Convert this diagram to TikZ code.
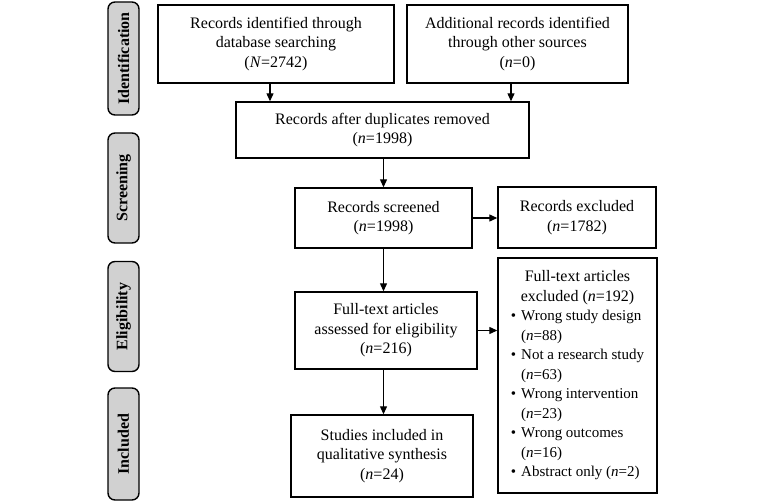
\documentclass[tikz,border=0pt]{standalone}
\usepackage{fontspec}
\setmainfont{Liberation Serif}
\usetikzlibrary{arrows.meta}
\begin{document}
\begin{tikzpicture}[x=1pt,y=-1pt,
  box/.style={draw=black,line width=1.4pt,rectangle,align=center,inner sep=2pt,
    font=\fontsize{16}{19.5}\selectfont},
  phase/.style={draw=black,line width=1.4pt,rounded corners=7pt,fill=black!18,
    minimum width=31pt,inner sep=0pt,font=\fontsize{16}{19}\selectfont\bfseries},
  arr/.style={line width=1.2pt,-{Triangle[length=8pt,width=7pt]}}]
\useasboundingbox (0,0) rectangle (764,503);
% phase labels
\node[phase,minimum height=113pt] (ph1) at (123.5,58.5) {\rotatebox{90}{Identification}};
\node[phase,minimum height=110pt] (ph2) at (123.5,188) {\rotatebox{90}{Screening}};
\node[phase,minimum height=110pt] (ph3) at (123.5,316.5) {\rotatebox{90}{Eligibility}};
\node[phase,minimum height=112pt] (ph4) at (123.5,444) {\rotatebox{90}{Included}};
% boxes
\node[box,minimum width=236pt,minimum height=78pt] (b1) at (276,44)
  {Records identified through\\database searching\\(\textit{N}=2742)};
\node[box,minimum width=221pt,minimum height=78pt] (b2) at (517.5,44)
  {Additional records identified\\through other sources\\(\textit{n}=0)};
\node[box,minimum width=293pt,minimum height=56pt] (dup) at (382.5,130)
  {Records after duplicates removed\\(\textit{n}=1998)};
\node[box,minimum width=177pt,minimum height=60pt] (scr) at (383.5,218)
  {Records screened\\(\textit{n}=1998)};
\node[box,minimum width=158pt,minimum height=61pt] (exc) at (577,217.5)
  {Records excluded\\(\textit{n}=1782)};
\node[box,minimum width=182pt,minimum height=77pt] (ft) at (386,330.5)
  {Full-text articles\\assessed for eligibility\\(\textit{n}=216)};
\node[box,minimum width=182pt,minimum height=82pt] (inc) at (382,456)
  {Studies included in\\qualitative synthesis\\(\textit{n}=24)};
\node[box,minimum width=159pt,minimum height=235pt] (lst) at (577.5,375.5)
  {\begin{tabular}{@{}l@{\hspace{5pt}}l@{}}
   \multicolumn{2}{c}{Full-text articles}\\
   \multicolumn{2}{c}{excluded (\textit{n}=192)}\\
   \fontsize{15}{19.5}\selectfont\textbullet & \fontsize{15}{19.5}\selectfont Wrong study design\\
    & \fontsize{15}{19.5}\selectfont(\textit{n}=88)\\
   \fontsize{15}{19.5}\selectfont\textbullet & \fontsize{15}{19.5}\selectfont Not a research study\\
    & \fontsize{15}{19.5}\selectfont(\textit{n}=63)\\
   \fontsize{15}{19.5}\selectfont\textbullet & \fontsize{15}{19.5}\selectfont Wrong intervention\\
    & \fontsize{15}{19.5}\selectfont(\textit{n}=23)\\
   \fontsize{15}{19.5}\selectfont\textbullet & \fontsize{15}{19.5}\selectfont Wrong outcomes\\
    & \fontsize{15}{19.5}\selectfont(\textit{n}=16)\\
   \fontsize{15}{19.5}\selectfont\textbullet & \fontsize{15}{19.5}\selectfont Abstract only (\textit{n}=2)
   \end{tabular}};
% arrows
\draw[arr] ([xshift=-6pt]b1.south) -- ([xshift=-6pt]b1.south |- dup.north);
\draw[arr] ([xshift=-6.5pt]b2.south) -- ([xshift=-6.5pt]b2.south |- dup.north);
\draw[arr] (scr.south |- dup.south) -- (scr.north);
\draw[arr] (scr.east) -- (scr.east -| exc.west);
\draw[arr] (scr.south) -- (scr.south |- ft.north);
\draw[arr] (ft.east) -- (ft.east -| lst.west);
\draw[arr] (scr.south |- ft.south) -- (scr.south |- inc.north);
\end{tikzpicture}
\end{document}
